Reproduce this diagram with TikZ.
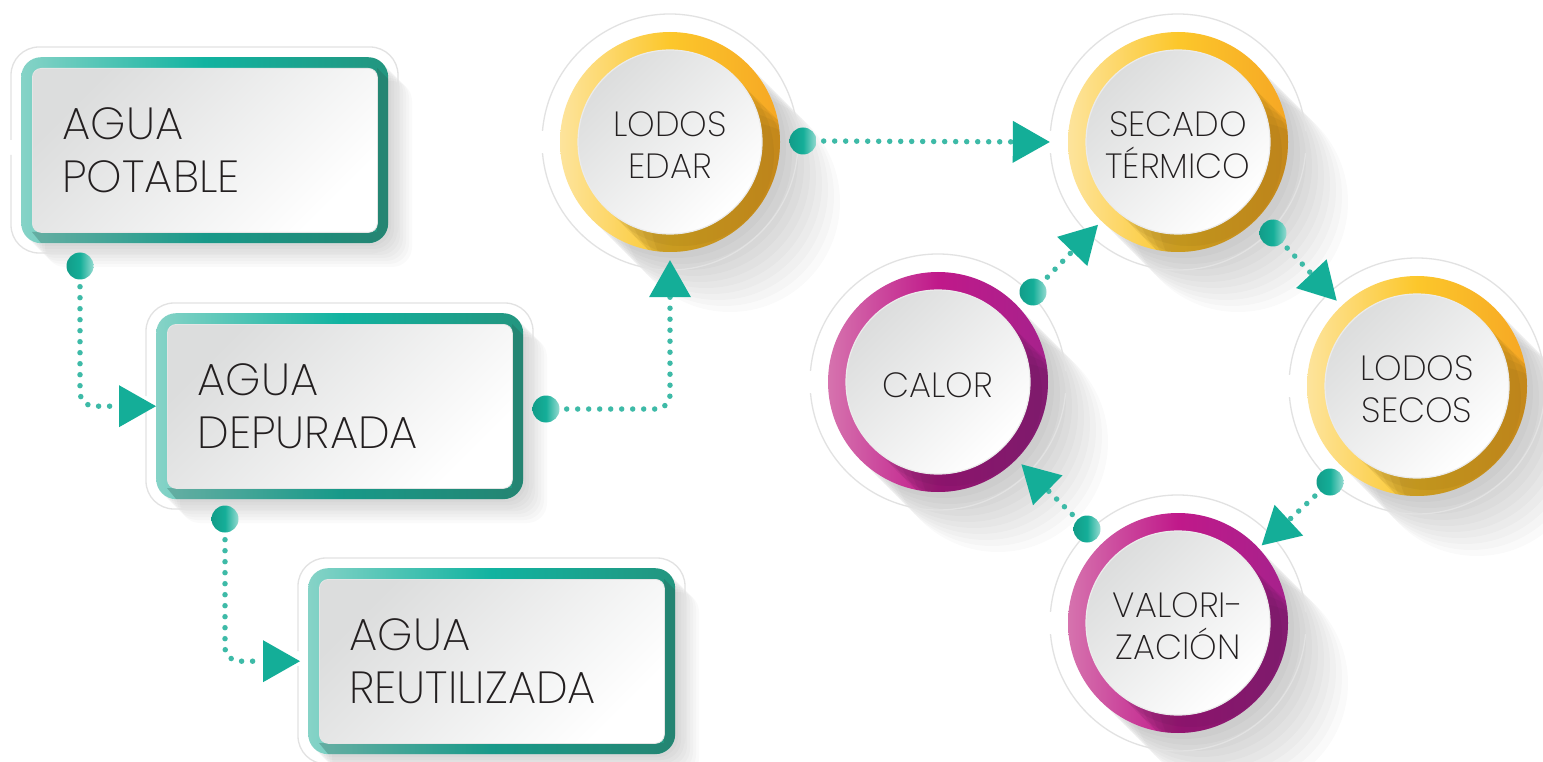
\documentclass[tikz,border=0pt]{standalone}
\usepackage{fontspec}
\setmainfont{Poppins}[UprightFont=* ExtraLight]
\usetikzlibrary{arrows.meta,calc}
\definecolor{tealA}{HTML}{14AE98}
\definecolor{tealDot}{HTML}{3DBAA7}
\definecolor{frL}{HTML}{86D3C7}
\definecolor{frM}{HTML}{11B3A0}
\definecolor{frR}{HTML}{23957F}
\definecolor{frD}{HTML}{2A5F55}
\definecolor{outl}{HTML}{E2E2E2}
\definecolor{inG}{HTML}{DCDDDD}
\definecolor{txt}{HTML}{231F20}
\definecolor{yL}{HTML}{FDE49C}
\definecolor{yM}{HTML}{FCC72B}
\definecolor{yR}{HTML}{F6A724}
\definecolor{yD}{HTML}{7A5A12}
\definecolor{mL}{HTML}{D673AE}
\definecolor{mM}{HTML}{C0198A}
\definecolor{mR}{HTML}{A6228C}
\definecolor{mD}{HTML}{4E1448}
\tikzset{
 ringline/.style={draw=outl, line width=1.3pt},
 framebox/.style={rounded corners=20pt, inner sep=0pt, left color=frL, right color=frR, middle color=frM},
 innerbox/.style={rounded corners=9pt, inner xsep=30pt, inner ysep=0pt, top color=inG, bottom color=white, shading angle=45, draw=white!90!black, line width=0.8pt, text=txt, align=left, font=\fontsize{45}{53}\selectfont},
 ctext/.style={text=txt, align=center, font=\fontsize{35}{42}\selectfont},
 dotn/.style={circle, minimum size=27pt, inner sep=0pt, left color=tealA!90!black, right color=tealA!45, middle color=tealA},
 conn/.style={draw=tealDot, line width=5.5pt, line cap=round, dash pattern=on 0pt off 11pt, dash phase=4pt, rounded corners=14pt, -{Triangle[length=37pt,width=42pt,line width=0pt,color=tealA,fill=tealA]}},
}
\newcommand\mkbox[4]{%
 \foreach \k in {1,...,8} {\fill[black, opacity=0.018, rounded corners=20pt] (#2+\k*3,#3+\k*3) rectangle ++(367,186);}
 \draw[ringline, rounded corners=28pt] (#2-10,#3+98) -- (#2-10,#3+196) -- (#2+377,#3+196) -- (#2+377,#3-10) -- (#2-10,#3-10) -- (#2-10,#3+83);
 \node[framebox, minimum width=367pt, minimum height=186pt, anchor=north west] (#1) at (#2,#3) {};
 \begin{scope}
  \clip[rounded corners=20pt] (#2,#3) rectangle (#2+367,#3+186);
  \fill[frD, opacity=0.3] (#2+356,#3+11) -- (#2+406,#3+61) -- (#2+406,#3+236) -- (#2+61,#3+236) -- (#2+11,#3+175) -- (#2+356,#3+175) -- cycle;
 \end{scope}
 \node[innerbox, minimum width=345pt, minimum height=164pt, text width=285pt, anchor=north west] (#1t) at (#2+11,#3+11) {#4};
}
\newcommand\mkcirc[8]{%
 \foreach \k in {1,...,10} {\fill[black, opacity=0.018] (#2+\k*6,#3+\k*6) circle[radius=110];}
 \draw[ringline] (#2,#3) ++(5:128) arc[start angle=5, end angle=175, radius=128];
 \draw[ringline] (#2,#3) ++(185:128) arc[start angle=185, end angle=355, radius=128];
 \node[circle, minimum size=256pt, inner sep=0pt] (#1) at (#2,#3) {};
 \shade[left color=#4, right color=#6, middle color=#5] (#2,#3) circle[radius=110];
 \begin{scope}
  \clip (#2,#3) circle[radius=110];
  \foreach \k in {1,...,6} {\fill[#7, opacity=0.09] (#2+\k*12,#3+\k*12) circle[radius=92];}
 \end{scope}
 \shade[top color=inG, bottom color=white, shading angle=45, draw=white!92!black, line width=1.2pt] (#2,#3) circle[radius=92];
 \node[ctext] (#1t) at (#2,#3+3) {#8};
}
\begin{document}
\begin{tikzpicture}[x=1pt,y=-1pt]
\useasboundingbox (0,0) rectangle (1543,762);
\fill[white] (0,0) rectangle (1543,762);
\mkbox{b1}{21}{57}{AGUA\\POTABLE}
\mkbox{b2}{156}{313}{AGUA\\DEPURADA}
\mkbox{b3}{308}{568}{AGUA\\REUTILIZADA}
\mkcirc{c1}{670}{142}{yL}{yM}{yR}{yD}{LODOS\\EDAR}
\mkcirc{c2}{1178}{142}{yL}{yM}{yR}{yD}{SECADO\\TÉRMICO}
\mkcirc{c3}{1417}{386}{yL}{yM}{yR}{yD}{LODOS\\SECOS}
\mkcirc{c4}{938}{382}{mL}{mM}{mR}{mD}{CALOR}
\mkcirc{c5}{1178}{623}{mL}{mM}{mR}{mD}{VALORI-\\ZACIÓN}
\node[dotn] (d1) at (80,266) {};
\node[dotn] (d2) at (225,519) {};
\node[dotn] (d3) at (546,409) {};
\node[dotn] (d4) at (803,141) {};
\node[dotn] (d5) at (1273,233) {};
\node[dotn] (d6) at (1330,482) {};
\node[dotn] (d7) at (1087,529) {};
\node[dotn] (d8) at (1033,292) {};
\draw[conn] (d1.south) |- (b2.west);
\draw[conn, shorten >=8pt] (d2.south) |- (b3.west);
\draw[conn, shorten >=-10pt] (d3.east) -| (c1.south);
\draw[conn] (d4.east) -- (c2.west);
\draw[conn, shorten >=-11pt] (d5) -- (c3);
\draw[conn, shorten >=-14pt] (d6) -- (c5);
\draw[conn, shorten >=-11pt] (d7) -- (c4);
\draw[conn, shorten >=-13pt] (d8) -- (c2);
\end{tikzpicture}
\end{document}
